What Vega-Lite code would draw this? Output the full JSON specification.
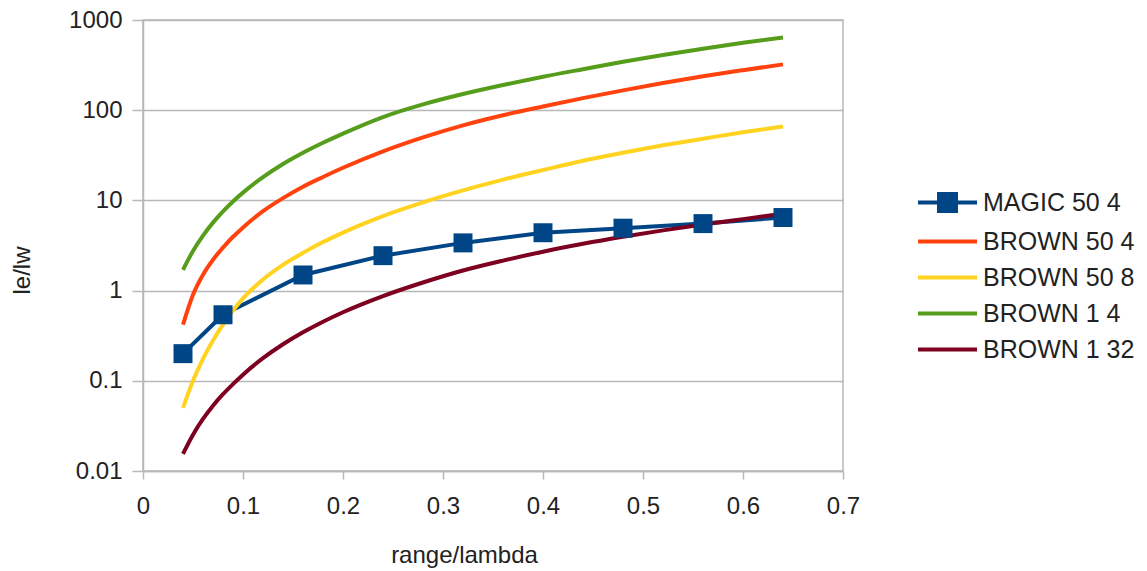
{
  "$schema": "https://vega.github.io/schema/vega-lite/v6.json",
  "autosize": {"type": "none"},
  "padding": {"left": 143, "top": 20, "right": 304, "bottom": 100},
  "width": 700,
  "height": 451,
  "background": "white",
  "config": {
    "view": {"stroke": "#b8b8b8", "strokeWidth": 1.5},
    "font": "Liberation Sans",
    "axis": {
      "labelFont": "Liberation Sans",
      "titleFont": "Liberation Sans",
      "labelFontSize": 24,
      "titleFontSize": 24,
      "titleFontWeight": "normal",
      "labelColor": "#222222",
      "titleColor": "#222222",
      "domainColor": "#b8b8b8",
      "domainWidth": 1.5,
      "tickColor": "#b8b8b8",
      "tickWidth": 1.5,
      "gridColor": "#b8b8b8",
      "gridWidth": 1.5
    },
    "legend": {
      "labelFont": "Liberation Sans",
      "labelFontSize": 25,
      "labelColor": "#222222"
    }
  },
  "data": {
    "values": [
      {"x": 0.04, "y": 0.2, "s": "MAGIC 50 4"},
      {"x": 0.08, "y": 0.54, "s": "MAGIC 50 4"},
      {"x": 0.16, "y": 1.49, "s": "MAGIC 50 4"},
      {"x": 0.24, "y": 2.44, "s": "MAGIC 50 4"},
      {"x": 0.32, "y": 3.38, "s": "MAGIC 50 4"},
      {"x": 0.4, "y": 4.38, "s": "MAGIC 50 4"},
      {"x": 0.48, "y": 4.92, "s": "MAGIC 50 4"},
      {"x": 0.56, "y": 5.53, "s": "MAGIC 50 4"},
      {"x": 0.64, "y": 6.46, "s": "MAGIC 50 4"},

      {"x": 0.04, "y": 0.42, "s": "BROWN 50 4"},
      {"x": 0.05, "y": 0.9, "s": "BROWN 50 4"},
      {"x": 0.06, "y": 1.5, "s": "BROWN 50 4"},
      {"x": 0.07, "y": 2.2, "s": "BROWN 50 4"},
      {"x": 0.08, "y": 3.0, "s": "BROWN 50 4"},
      {"x": 0.09, "y": 3.95, "s": "BROWN 50 4"},
      {"x": 0.1, "y": 5.0, "s": "BROWN 50 4"},
      {"x": 0.12, "y": 7.6, "s": "BROWN 50 4"},
      {"x": 0.14, "y": 10.6, "s": "BROWN 50 4"},
      {"x": 0.16, "y": 14.2, "s": "BROWN 50 4"},
      {"x": 0.18, "y": 18.2, "s": "BROWN 50 4"},
      {"x": 0.2, "y": 23, "s": "BROWN 50 4"},
      {"x": 0.24, "y": 35, "s": "BROWN 50 4"},
      {"x": 0.28, "y": 50, "s": "BROWN 50 4"},
      {"x": 0.32, "y": 68, "s": "BROWN 50 4"},
      {"x": 0.36, "y": 88, "s": "BROWN 50 4"},
      {"x": 0.4, "y": 110, "s": "BROWN 50 4"},
      {"x": 0.44, "y": 136, "s": "BROWN 50 4"},
      {"x": 0.48, "y": 166, "s": "BROWN 50 4"},
      {"x": 0.52, "y": 200, "s": "BROWN 50 4"},
      {"x": 0.56, "y": 238, "s": "BROWN 50 4"},
      {"x": 0.6, "y": 278, "s": "BROWN 50 4"},
      {"x": 0.64, "y": 322, "s": "BROWN 50 4"},

      {"x": 0.04, "y": 0.05, "s": "BROWN 50 8"},
      {"x": 0.05, "y": 0.1, "s": "BROWN 50 8"},
      {"x": 0.06, "y": 0.175, "s": "BROWN 50 8"},
      {"x": 0.07, "y": 0.28, "s": "BROWN 50 8"},
      {"x": 0.08, "y": 0.42, "s": "BROWN 50 8"},
      {"x": 0.09, "y": 0.6, "s": "BROWN 50 8"},
      {"x": 0.1, "y": 0.82, "s": "BROWN 50 8"},
      {"x": 0.12, "y": 1.33, "s": "BROWN 50 8"},
      {"x": 0.14, "y": 1.93, "s": "BROWN 50 8"},
      {"x": 0.16, "y": 2.62, "s": "BROWN 50 8"},
      {"x": 0.18, "y": 3.45, "s": "BROWN 50 8"},
      {"x": 0.2, "y": 4.4, "s": "BROWN 50 8"},
      {"x": 0.24, "y": 6.7, "s": "BROWN 50 8"},
      {"x": 0.28, "y": 9.5, "s": "BROWN 50 8"},
      {"x": 0.32, "y": 12.9, "s": "BROWN 50 8"},
      {"x": 0.36, "y": 17, "s": "BROWN 50 8"},
      {"x": 0.4, "y": 21.7, "s": "BROWN 50 8"},
      {"x": 0.44, "y": 27.5, "s": "BROWN 50 8"},
      {"x": 0.48, "y": 33.8, "s": "BROWN 50 8"},
      {"x": 0.52, "y": 40.8, "s": "BROWN 50 8"},
      {"x": 0.56, "y": 48.3, "s": "BROWN 50 8"},
      {"x": 0.6, "y": 57, "s": "BROWN 50 8"},
      {"x": 0.64, "y": 66, "s": "BROWN 50 8"},

      {"x": 0.04, "y": 1.7, "s": "BROWN 1 4"},
      {"x": 0.05, "y": 2.75, "s": "BROWN 1 4"},
      {"x": 0.06, "y": 4.07, "s": "BROWN 1 4"},
      {"x": 0.07, "y": 5.67, "s": "BROWN 1 4"},
      {"x": 0.08, "y": 7.56, "s": "BROWN 1 4"},
      {"x": 0.09, "y": 9.74, "s": "BROWN 1 4"},
      {"x": 0.1, "y": 12.2, "s": "BROWN 1 4"},
      {"x": 0.12, "y": 18.1, "s": "BROWN 1 4"},
      {"x": 0.14, "y": 25.3, "s": "BROWN 1 4"},
      {"x": 0.16, "y": 33.7, "s": "BROWN 1 4"},
      {"x": 0.18, "y": 43.5, "s": "BROWN 1 4"},
      {"x": 0.2, "y": 55, "s": "BROWN 1 4"},
      {"x": 0.24, "y": 84, "s": "BROWN 1 4"},
      {"x": 0.28, "y": 116, "s": "BROWN 1 4"},
      {"x": 0.32, "y": 151, "s": "BROWN 1 4"},
      {"x": 0.36, "y": 190, "s": "BROWN 1 4"},
      {"x": 0.4, "y": 235, "s": "BROWN 1 4"},
      {"x": 0.44, "y": 285, "s": "BROWN 1 4"},
      {"x": 0.48, "y": 344, "s": "BROWN 1 4"},
      {"x": 0.52, "y": 409, "s": "BROWN 1 4"},
      {"x": 0.56, "y": 481, "s": "BROWN 1 4"},
      {"x": 0.6, "y": 560, "s": "BROWN 1 4"},
      {"x": 0.64, "y": 640, "s": "BROWN 1 4"},

      {"x": 0.04, "y": 0.0155, "s": "BROWN 1 32"},
      {"x": 0.05, "y": 0.0253, "s": "BROWN 1 32"},
      {"x": 0.06, "y": 0.0378, "s": "BROWN 1 32"},
      {"x": 0.07, "y": 0.053, "s": "BROWN 1 32"},
      {"x": 0.08, "y": 0.071, "s": "BROWN 1 32"},
      {"x": 0.09, "y": 0.092, "s": "BROWN 1 32"},
      {"x": 0.1, "y": 0.117, "s": "BROWN 1 32"},
      {"x": 0.12, "y": 0.178, "s": "BROWN 1 32"},
      {"x": 0.14, "y": 0.254, "s": "BROWN 1 32"},
      {"x": 0.16, "y": 0.345, "s": "BROWN 1 32"},
      {"x": 0.18, "y": 0.452, "s": "BROWN 1 32"},
      {"x": 0.2, "y": 0.576, "s": "BROWN 1 32"},
      {"x": 0.24, "y": 0.87, "s": "BROWN 1 32"},
      {"x": 0.28, "y": 1.23, "s": "BROWN 1 32"},
      {"x": 0.32, "y": 1.67, "s": "BROWN 1 32"},
      {"x": 0.36, "y": 2.15, "s": "BROWN 1 32"},
      {"x": 0.4, "y": 2.7, "s": "BROWN 1 32"},
      {"x": 0.44, "y": 3.3, "s": "BROWN 1 32"},
      {"x": 0.48, "y": 3.95, "s": "BROWN 1 32"},
      {"x": 0.52, "y": 4.65, "s": "BROWN 1 32"},
      {"x": 0.56, "y": 5.4, "s": "BROWN 1 32"},
      {"x": 0.6, "y": 6.2, "s": "BROWN 1 32"},
      {"x": 0.64, "y": 7.1, "s": "BROWN 1 32"}
    ]
  },
  "encoding": {
    "x": {
      "field": "x", "type": "quantitative",
      "scale": {"domain": [0, 0.7], "nice": false, "zero": false},
      "axis": {
        "values": [0, 0.1, 0.2, 0.3, 0.4, 0.5, 0.6, 0.7],
        "format": ".1~f",
        "grid": false,
        "tickSize": 8,
        "labelPadding": 15,
        "labelFlush": false,
        "title": "range/lambda",
        "titleX": 321,
        "titleY": 84,
        "titleBaseline": "middle",
        "titleAnchor": "middle"
      }
    },
    "y": {
      "field": "y", "type": "quantitative",
      "scale": {"type": "log", "domain": [0.01, 1000], "nice": false},
      "axis": {
        "values": [0.01, 0.1, 1, 10, 100, 1000],
        "format": "~g",
        "grid": true,
        "tickSize": 11,
        "labelPadding": 10,
        "labelFlush": false,
        "title": "le/lw",
        "titleX": -121,
        "titleY": 250,
        "titleAngle": -90,
        "titleBaseline": "middle",
        "titleAnchor": "middle"
      }
    }
  },
  "layer": [
    {
      "transform": [{"filter": "datum.s === 'MAGIC 50 4'"}],
      "mark": {"type": "line", "strokeWidth": 4, "interpolate": "linear"},
      "encoding": {
        "color": {
          "field": "s", "type": "nominal",
          "scale": {
            "domain": ["MAGIC 50 4", "BROWN 50 4", "BROWN 50 8", "BROWN 1 4", "BROWN 1 32"],
            "range": ["#004586", "#ff420e", "#ffd320", "#579d1c", "#7e0021"]
          },
          "legend": {
            "title": null,
            "orient": "none",
            "legendX": 792,
            "legendY": 170,
            "symbolType": "M-2.95,0H2.95",
            "symbolSize": 400,
            "symbolStrokeWidth": 4,
            "labelOffset": 23,
            "rowPadding": 10,
            "encode": {
              "symbols": {
                "update": {
                  "shape": {"signal": "datum.value === 'MAGIC 50 4' ? 'M-2.95,0H2.95M-0.85,-0.85H0.85V0.85H-0.85Z' : 'M-2.95,0H2.95'"},
                  "fill": {"scale": "color", "field": "value"},
                  "stroke": {"scale": "color", "field": "value"}
                }
              }
            }
          }
        }
      }
    },
    {
      "transform": [{"filter": "datum.s !== 'MAGIC 50 4'"}],
      "mark": {"type": "line", "strokeWidth": 4, "interpolate": "monotone"},
      "encoding": {
        "color": {
          "field": "s", "type": "nominal",
          "scale": {
            "domain": ["MAGIC 50 4", "BROWN 50 4", "BROWN 50 8", "BROWN 1 4", "BROWN 1 32"],
            "range": ["#004586", "#ff420e", "#ffd320", "#579d1c", "#7e0021"]
          }
        }
      }
    },
    {
      "transform": [{"filter": "datum.s === 'MAGIC 50 4'"}],
      "mark": {"type": "point", "shape": "square", "filled": true, "size": 360, "opacity": 1, "color": "#004586"}
    }
  ]
}
